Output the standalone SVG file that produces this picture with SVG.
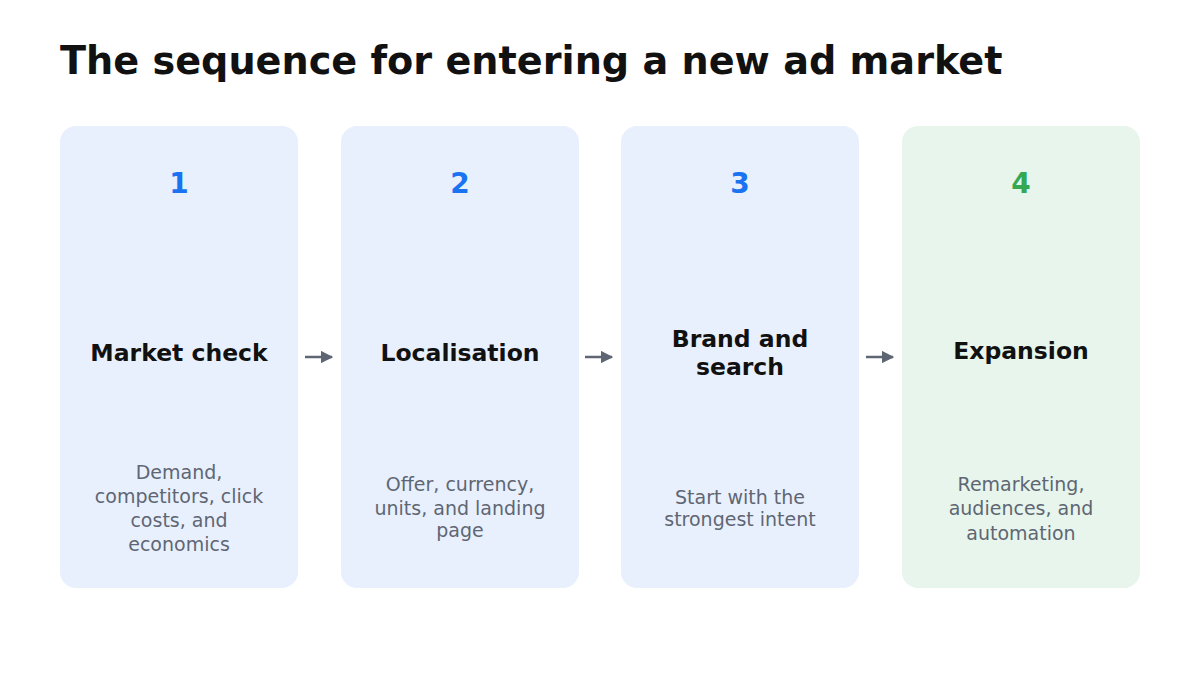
<svg xmlns="http://www.w3.org/2000/svg" width="1200" height="700" viewBox="0 0 1200 700">
<style>
.card{fill:#e8f0fe}
.card.g{fill:#e7f5ec}
.num{font:bold 28px "DejaVu Sans",sans-serif;fill:#1a73f0;text-anchor:middle}
.num.g{fill:#34a853}
.t{font:bold 23.5px "DejaVu Sans",sans-serif;fill:#111;text-anchor:middle}
.d{font:19px "DejaVu Sans",sans-serif;fill:#5f6673;text-anchor:middle}
.c{stroke:#5f6673;stroke-width:2.5;fill:none}
</style>
<defs><marker id="a" viewBox="0 0 10 10" refX="9" refY="5" markerWidth="5" markerHeight="5" orient="auto"><path d="M0,0L10,5L0,10z" fill="#5f6673"/></marker></defs>
<rect width="1200" height="700" fill="#fff"/>
<text x="60" y="74" style="font:bold 38.2px 'DejaVu Sans',sans-serif;fill:#111">The sequence for entering a new ad market</text>
<g id="n1"><rect class="card" x="60" y="126" width="238" height="462" rx="16"/><text class="num" x="179" y="193">1</text><text class="t" x="179" y="361">Market check</text><text class="d" x="179" y="479">Demand,</text><text class="d" x="179" y="503">competitors, click</text><text class="d" x="179" y="527">costs, and</text><text class="d" x="179" y="551">economics</text></g>
<g id="n2"><rect class="card" x="341" y="126" width="238" height="462" rx="16"/><text class="num" x="460" y="193">2</text><text class="t" x="460" y="361">Localisation</text><text class="d" x="460" y="491">Offer, currency,</text><text class="d" x="460" y="515">units, and landing</text><text class="d" x="460" y="537">page</text></g>
<g id="n3"><rect class="card" x="621" y="126" width="238" height="462" rx="16"/><text class="num" x="740" y="193">3</text><text class="t" x="740" y="347">Brand and</text><text class="t" x="740" y="375">search</text><text class="d" x="740" y="504">Start with the</text><text class="d" x="740" y="526">strongest intent</text></g>
<g id="n4"><rect class="card g" x="902" y="126" width="238" height="462" rx="16"/><text class="num g" x="1021" y="193">4</text><text class="t" x="1021" y="359">Expansion</text><text class="d" x="1021" y="491">Remarketing,</text><text class="d" x="1021" y="515">audiences, and</text><text class="d" x="1021" y="540">automation</text></g>
<g id="connectors">
<line class="c" x1="305" y1="357" x2="332" y2="357" marker-end="url(#a)"/>
<line class="c" x1="585" y1="357" x2="612" y2="357" marker-end="url(#a)"/>
<line class="c" x1="866" y1="357" x2="893" y2="357" marker-end="url(#a)"/>
</g>
</svg>
